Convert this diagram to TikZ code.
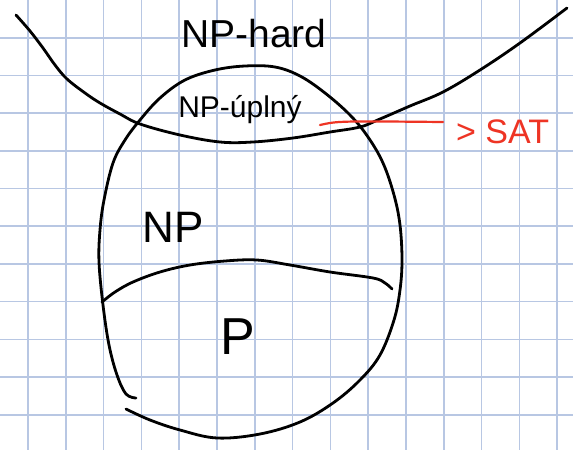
\documentclass[tikz,border=0pt]{standalone}
\usepackage{fontspec}
\setmainfont{Liberation Sans}
\usepackage{tikz}
\usetikzlibrary{positioning}
\definecolor{gridblue}{RGB}{184,199,227}
\definecolor{penred}{RGB}{238,52,36}
\tikzset{
  gridline/.style={draw=gridblue, line width=1.6pt},
  pen/.style={draw=black, line width=2.8pt, line cap=round, line join=round},
  redpen/.style={draw=penred, line width=2.2pt, line cap=round},
  hand/.style={inner sep=0pt, anchor=base},
}
\begin{document}
\begin{tikzpicture}[x=1pt, y=-1pt]
    \useasboundingbox (0,0) rectangle (573,450);
    \fill[white] (0,0) rectangle (573,450);
    % squared paper
    \foreach \i in {0,...,14}
      \draw[gridline] ({28+37.8*\i},0) -- ({28+37.8*\i},450);
    \foreach \j in {1,...,11}
      \draw[gridline] (0,{37.7*\j}) -- (573,{37.7*\j});
    % NP-hard boundary
    \draw[pen] plot[smooth, tension=0.6] coordinates {(16,15) (30,31) (43,48) (55,65) (67,79) (85,93) (100,103) (120,114) (140,124) (180,135) (220,142) (253,142) (293,138) (330,132) (360,127) (380,119) (410,106) (443,92) (480,70) (520,43) (567,8)};
    % NP
    \draw[pen] plot[smooth, tension=0.6] coordinates {(136,398) (126,394) (117,375) (109,345) (103,305) (99,262) (100,230) (104,200) (113,163) (125,140) (140,120) (160,98) (185,80) (215,70) (245,66) (275,67) (300,76) (325,93) (350,115) (368,137) (383,163) (394,195) (400,225) (402,260) (400,290) (394,320) (380,355) (360,380) (333,403) (300,422) (260,434) (217,438) (180,430) (150,420) (126,409)};
    % P
    \draw[pen] plot[smooth, tension=0.6] coordinates {(102,302) (115,292) (133,282) (160,272) (190,265) (225,261) (257,260) (290,265) (330,272) (373,278) (385,283) (392,289)};
    % labels
    \node[hand, font=\fontsize{39}{40}\selectfont] (nphard) at (254,47) {NP-hard};
    \node[hand, font=\fontsize{30}{31}\selectfont] (npc) at (240,117) {NP-úplný};
    \node[hand, font=\fontsize{44}{45}\selectfont] (np) at (173,242) {NP};
    \node[hand, font=\fontsize{52}{53}\selectfont] (p) at (238,354) {P};
    \node[hand, anchor=base west, text=penred, font=\fontsize{34}{35}\selectfont] (sat) at (456,143) {> SAT};
    % SAT pointer
    \coordinate (redtail) at (320,125);
    \coordinate (redhead) at (443,122);
    \draw[redpen] (redtail) .. controls (338,121) .. (redhead);
\end{tikzpicture}
\end{document}
